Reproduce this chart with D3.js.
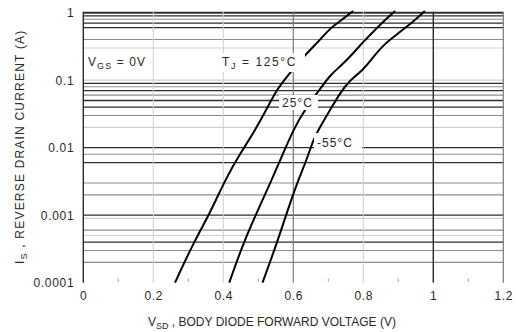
<!DOCTYPE html>
<html>
<head>
<meta charset="utf-8">
<script src="https://cdn.jsdelivr.net/npm/d3@7"></script>
<style>
  html, body { margin: 0; padding: 0; background: #fff; }
  #chart { width: 516px; height: 332px; }
  text { font-family: "Liberation Sans", Arial, sans-serif; fill: #2a2a2a; }
</style>
</head>
<body>
<div id="chart"></div>
<script>
// tick values and labels
const xTicks = [0, 0.2, 0.4, 0.6, 0.8, 1, 1.2];
const xTickLabels = ['0', '0.2', '0.4', '0.6', '0.8', '1', '1.2'];
const xMinorTicks = [0.1, 0.3, 0.5, 0.7, 0.9, 1.1];
const yTicks = [1, 0.1, 0.01, 0.001, 0.0001];
const yTickLabels = ['1', '0.1', '0.01', '0.001', '0.0001'];

// grid lines as they show in the picture (dark / grey / faint)
const hGridDark = [1, 0.9, 0.7, 0.6, 0.09, 0.07, 0.05, 0.04, 0.01, 0.006, 0.001, 0.0004];
const hGridMid = [0.8, 0.4, 0.08, 0.06, 0.03, 0.008, 0.003, 0.002, 0.0006, 0.0003, 0.0002];
const hGridLight = [0.3, 0.1, 0.02, 0.0009, 0.0005];
const vGridDark = [0, 1];
const vGridMid = [0.6, 1.2];
const vGridLight = [0.2, 0.4, 0.8];

// curves: [V_SD (V), I_S (A)]
const curve125 = [[0.262, 0.0001], [0.314, 0.000384], [0.362, 0.00107], [0.405, 0.00332],
  [0.448, 0.00826], [0.486, 0.0163], [0.533, 0.0455], [0.552, 0.0716], [0.585, 0.119],
  [0.629, 0.223], [0.676, 0.394], [0.705, 0.587], [0.738, 0.78], [0.771, 1.06]];
const curve25 = [[0.417, 0.0001], [0.457, 0.000384], [0.495, 0.00107], [0.538, 0.00332],
  [0.571, 0.00826], [0.6, 0.0183], [0.629, 0.0341], [0.671, 0.0676], [0.705, 0.119],
  [0.733, 0.158], [0.767, 0.236], [0.8, 0.372], [0.838, 0.587], [0.857, 0.736], [0.891, 1.06]];
const curveM55 = [[0.512, 0.0001], [0.553, 0.000384], [0.581, 0.00107], [0.614, 0.00332],
  [0.638, 0.00658], [0.657, 0.013], [0.671, 0.0182], [0.705, 0.0362], [0.733, 0.064],
  [0.762, 0.1007], [0.8, 0.1416], [0.829, 0.223], [0.862, 0.352], [0.9, 0.495],
  [0.943, 0.736], [0.976, 1.06]];

const chartDiv = document.getElementById('chart');
const width = 516, height = 332;

const svg = d3.select(chartDiv).append('svg')
    .attr('width', width)
    .attr('height', height)
    .attr('viewBox', [0, 0, width, height]);

const x = d3.scaleLinear()
    .domain([0, 1.2])
    .range([83.3, 503.3]);
const y = d3.scaleLog()
    .domain([0.0001, 1])
    .range([282.7, 12.7]);

const grid = svg.append('g').attr('class', 'grid');

function hLines (vals, color, w) {
    grid.append('g').selectAll('line')
        .data(vals)
        .join('line')
        .attr('x1', x(0)).attr('x2', x(1.2))
        .attr('y1', d => y(d)).attr('y2', d => y(d))
        .attr('stroke', color)
        .attr('stroke-width', d => d === 1 ? 2 : w);
}
function vLines (vals, color, w) {
    grid.append('g').selectAll('line')
        .data(vals)
        .join('line')
        .attr('x1', d => x(d)).attr('x2', d => x(d))
        .attr('y1', y(1) - 1).attr('y2', y(0.0001))
        .attr('stroke', color)
        .attr('stroke-width', w);
}
hLines(hGridLight, '#d0d0d0', 1.2);
hLines(hGridMid, '#8c8c8c', 1.1);
hLines(hGridDark, '#2e2e2e', 1.3);
vLines(vGridLight, '#cfcfcf', 1);
vLines(vGridMid, '#7a7a7a', 1.2);
vLines(vGridDark, '#2a2a2a', 1.4);

// small minor ticks along the bottom
grid.append('g').selectAll('line')
    .data(xMinorTicks)
    .join('line')
    .attr('x1', d => x(d)).attr('x2', d => x(d))
    .attr('y1', y(0.0001) - 4).attr('y2', y(0.0001) - 1)
    .attr('stroke', '#999')
    .attr('stroke-width', 1);

// axes, used only for the tick labels
const xAxis = svg.append('g')
    .attr('class', 'x axis')
    .attr('transform', `translate(0,${y(0.0001) + 6})`)
    .call(d3.axisBottom(x)
        .tickValues(xTicks)
        .tickSize(0)
        .tickFormat((d, i) => xTickLabels[i]));
const yAxis = svg.append('g')
    .attr('class', 'y axis')
    .attr('transform', `translate(${x(0) - 6},0)`)
    .call(d3.axisLeft(y)
        .tickValues(yTicks)
        .tickSize(0)
        .tickFormat((d, i) => yTickLabels[i]));
svg.selectAll('.axis .domain').remove();
svg.selectAll('.axis text')
    .attr('font-family', '"Liberation Sans", Arial, sans-serif')
    .attr('font-size', 12)
    .attr('letter-spacing', 0.7)
    .attr('fill', '#333');

// curves
const line = d3.line()
    .x(d => x(d[0]))
    .y(d => y(d[1]))
    .curve(d3.curveBasis);
const dataRegion = svg.append('g').attr('id', 'data');
dataRegion.selectAll('path')
    .data([curve125, curve25, curveM55])
    .join('path')
    .attr('d', line)
    .attr('fill', 'none')
    .attr('stroke', '#000')
    .attr('stroke-width', 2);

// annotations with white boxes behind them
function label (parts, px, py, spacing, box) {
    if (box) {
        svg.append('rect')
            .attr('x', box[0]).attr('y', box[1])
            .attr('width', box[2]).attr('height', box[3])
            .attr('fill', '#fff');
    }
    const t = svg.append('text')
        .attr('x', px).attr('y', py)
        .attr('font-size', 12)
        .attr('letter-spacing', spacing);
    parts.forEach(p => {
        t.append('tspan')
            .attr('font-size', p.sub ? 9 : 12)
            .attr('dy', p.sub ? 3 : (p.up ? -3 : 0))
            .text(p.t);
    });
    return t;
}

label([{t: 'V'}, {t: 'GS', sub: true}, {t: ' = 0V', up: true}], 88, 66, 1.1);
label([{t: 'T'}, {t: 'J', sub: true}, {t: ' = 125°C', up: true}], 222, 66, 1.6, [220, 53, 85, 19]);
label([{t: '25°C'}], 282, 107, 1, [279, 95, 39, 15]);
label([{t: '-55°C'}], 317, 147, 1, [314, 133, 48, 18]);

// axis titles
const xTitle = svg.append('text')
    .attr('x', 148).attr('y', 326)
    .attr('font-size', 12)
    .attr('fill', '#333');
xTitle.append('tspan').text('V');
xTitle.append('tspan').attr('font-size', 9).attr('dy', 3).text('SD');
xTitle.append('tspan').attr('dy', -3).text(' , BODY DIODE FORWARD VOLTAGE (V)');

const yTitle = svg.append('text')
    .attr('transform', 'translate(24,264) rotate(-90)')
    .attr('font-size', 12)
    .attr('letter-spacing', 1.2)
    .attr('fill', '#333');
yTitle.append('tspan').text('I');
yTitle.append('tspan').attr('font-size', 9).attr('dy', 3).text('S');
yTitle.append('tspan').attr('dy', -3).text(' , REVERSE DRAIN CURRENT (A)');
</script>
</body>
</html>
